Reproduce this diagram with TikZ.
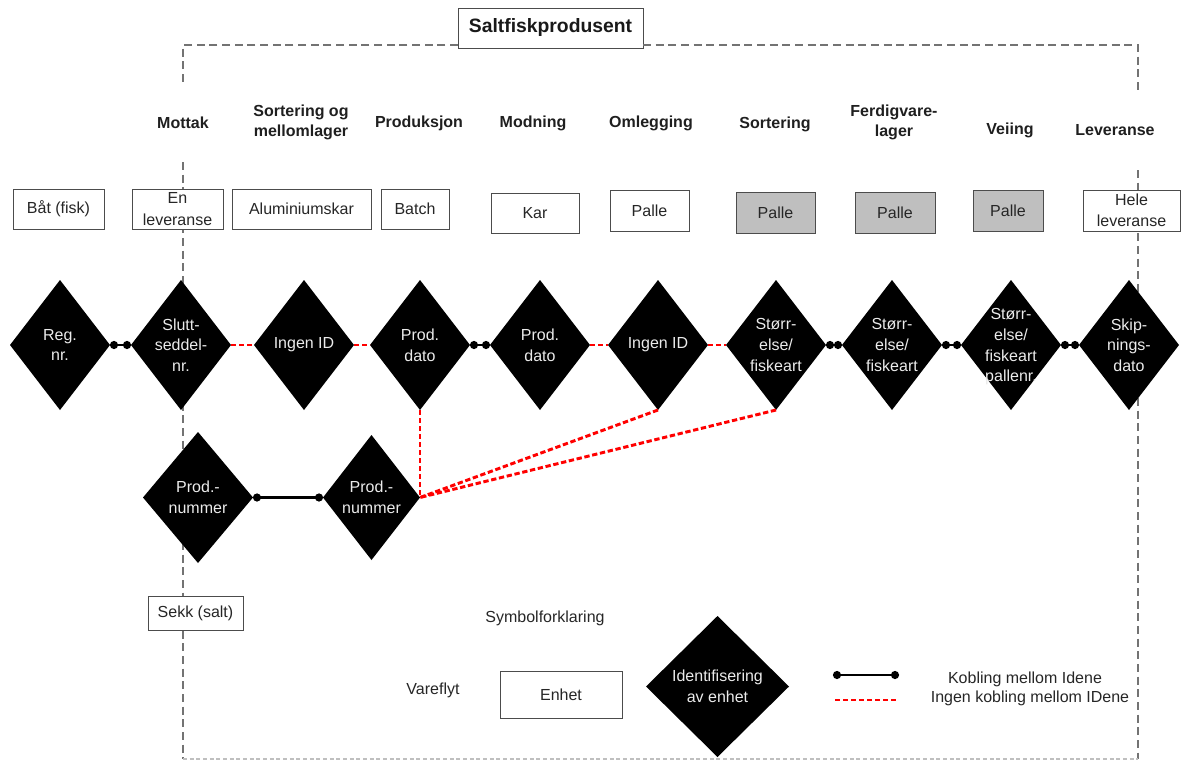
\documentclass[tikz,border=0pt]{standalone}
\usepackage{fontspec}
\setmainfont{Liberation Sans}
\usetikzlibrary{shapes.geometric,arrows.meta}
\begin{document}
\begin{tikzpicture}[x=0.75pt,y=-0.75pt,
  hdr/.style={font=\fontsize{12}{14.5}\selectfont\bfseries, align=center, text=black!88, inner sep=0pt},
  plain/.style={font=\fontsize{12}{14}\selectfont, align=center, text=black!85, inner sep=0pt},
  box/.style={draw=black!70, line width=0.75pt, fill=white, minimum height=30pt, inner sep=0pt, outer sep=0pt, align=center, text=black!85, font=\fontsize{12}{15}\selectfont},
  gbox/.style={box, fill=black!25},
  dia/.style={diamond, fill=black, draw=none, inner sep=0pt, outer sep=0pt, minimum width=75pt, minimum height=97.5pt},
  dtext/.style={text=black!8, align=center, inner sep=0pt, font=\fontsize{12}{15.5}\selectfont},
  link/.style={line width=2pt, {Circle[length=6pt]}-{Circle[length=6pt]}},
  nolink/.style={red, line width=2.2pt, dash pattern=on 4pt off 2pt},
  frame/.style={black!55, line width=0.9pt, dash pattern=on 6pt off 3.5pt},
  framelight/.style={black!25, line width=0.9pt, dash pattern=on 3pt off 2pt},
]
\useasboundingbox (0,0) rectangle (1182,760);

% title and frame
\node[box, font=\fontsize{14.5}{16}\selectfont\bfseries, minimum width=138.75pt, minimum height=30pt, text=black!90] (title) at (550.5,28) {Saltfiskprodusent};
\coordinate (tl) at (183,45);
\coordinate (tr) at (1138,45);
\coordinate (bl) at (183,759);
\coordinate (br) at (1138,759);
\coordinate (lgapa) at (183,83);
\coordinate (lgapb) at (183,162);
\coordinate (rgapa) at (1138,90);
\coordinate (rgapb) at (1138,170);
\draw[frame] (title.west |- tl) -- (tl) -- (lgapa);
\draw[frame] (lgapb) -- (bl);
\draw[frame] (title.east |- tr) -- (tr) -- (rgapa);
\draw[frame] (rgapb) -- (br);
\draw[framelight] (bl) -- (br);

% headers
\node[hdr] (h1) at (183,123) {Mottak};
\node[hdr] (h2) at (301,122.5) {Sortering og\\mellomlager};
\node[hdr] (h3) at (419,123) {Produksjon};
\node[hdr] (h4) at (533,123) {Modning};
\node[hdr] (h5) at (651,123) {Omlegging};
\node[hdr] (h6) at (775,124) {Sortering};
\node[hdr] (h7) at (894,122.5) {Ferdigvare-\\lager};
\node[hdr] (h8) at (1010,130) {Veiing};
\node[hdr] (h9) at (1115,130) {Leveranse};

% unit boxes
\node[box, minimum width=68.25pt] (b1) at (58.5,209) {Båt (fisk)};
\node[box, minimum width=68.25pt, font=\fontsize{12}{16}\selectfont] (b2) at (177.5,209) {En\\leveranse};
\node[box, minimum width=104.25pt] (b3) at (301.5,209) {Aluminiumskar};
\node[box, minimum width=51pt] (b4) at (415,209) {Batch};
\node[box, minimum width=66pt] (b5) at (535,213) {Kar};
\node[box, minimum width=59.25pt, minimum height=30.75pt] (b6) at (649.5,210.5) {Palle};
\node[gbox, minimum width=59.25pt, minimum height=30.75pt] (b7) at (775.5,212.5) {Palle};
\node[gbox, minimum width=60pt, minimum height=30.75pt] (b8) at (895,212.5) {Palle};
\node[gbox, minimum width=52.5pt, minimum height=30.75pt] (b9) at (1008,210.5) {Palle};
\node[box, minimum width=72.75pt, minimum height=30.75pt, font=\fontsize{12}{16}\selectfont] (b10) at (1131.5,210.5) {Hele\\leveranse};
\node[box, minimum width=71.25pt, minimum height=25.5pt] (sekk) at (195.5,613) {Sekk (salt)};

% identification diamonds
\node[dia] (d1) at (60,345) {};
\node[dia] (d2) at (181,345) {};
\node[dia] (d3) at (304,345) {};
\node[dia] (d4) at (420,345) {};
\node[dia] (d5) at (540,345) {};
\node[dia] (d6) at (658,345) {};
\node[dia] (d7) at (776,345) {};
\node[dia] (d8) at (892,345) {};
\node[dia] (d9) at (1011,345) {};
\node[dia] (d10) at (1129,345) {};
\node[dia, minimum width=82.5pt, minimum height=98.25pt] (p1) at (198,497.5) {};
\node[dia, minimum width=72.75pt, minimum height=93.75pt] (p2) at (371.5,497.5) {};

\node[dtext] (t1) at (d1) {Reg.\\nr.};
\node[dtext] (t2) at (d2) {Slutt-\\seddel-\\nr.};
\node[dtext] (t3) at (d3) {Ingen ID};
\node[dtext] (t4) at (d4) {Prod.\\dato};
\node[dtext] (t5) at (d5) {Prod.\\dato};
\node[dtext] (t6) at (d6) {Ingen ID};
\node[dtext] (t7) at (d7) {Størr-\\else/\\fiskeart};
\node[dtext] (t8) at (d8) {Størr-\\else/\\fiskeart};
\node[dtext] (t9) at ([yshift=-1.5pt]d9) {Størr-\\else/\\fiskeart\\pallenr.};
\node[dtext] (t10) at (d10) {Skip-\\nings-\\dato};
\node[dtext] (tp1) at (p1) {Prod.-\\nummer};
\node[dtext] (tp2) at (p2) {Prod.-\\nummer};

% connectors
\draw[link] (d1.east) -- (d2.west);
\draw[nolink] (d2.east) -- (d3.west);
\draw[nolink] (d3.east) -- (d4.west);
\draw[link] (d4.east) -- (d5.west);
\draw[nolink] (d5.east) -- (d6.west);
\draw[nolink] (d6.east) -- (d7.west);
\draw[link] (d7.east) -- (d8.west);
\draw[link] (d8.east) -- (d9.west);
\draw[link] (d9.east) -- (d10.west);
\draw[link] (p1.east) -- (p2.west);
\draw[nolink] (d4.south) -- (p2.east);
\draw[nolink] (d6.south) -- (p2.east);
\draw[nolink] (d7.south) -- (p2.east);

% legend
\node[plain] (sym) at (545,618) {Symbolforklaring};
\node[plain] (vare) at (433,690) {Vareflyt};
\node[box, minimum width=91.5pt, minimum height=35.25pt] (enhet) at (561,694.5) {Enhet};
\node[dia, minimum width=107.25pt, minimum height=105.75pt] (ld) at (717.5,686.5) {};
\node[dtext] (ldt) at (ld) {Identifisering\\av enhet};
\coordinate (la) at (833,675);
\coordinate (lb) at (899,675);
\coordinate (lc) at (835,700);
\coordinate (ldd) at (897,700);
\draw[link] (la) -- (lb);
\draw[nolink] (lc) -- (ldd);
\node[plain] (k1) at (1025,679) {Kobling mellom Idene};
\node[plain] (k2) at (1030,698) {Ingen kobling mellom IDene};
\end{tikzpicture}
\end{document}
